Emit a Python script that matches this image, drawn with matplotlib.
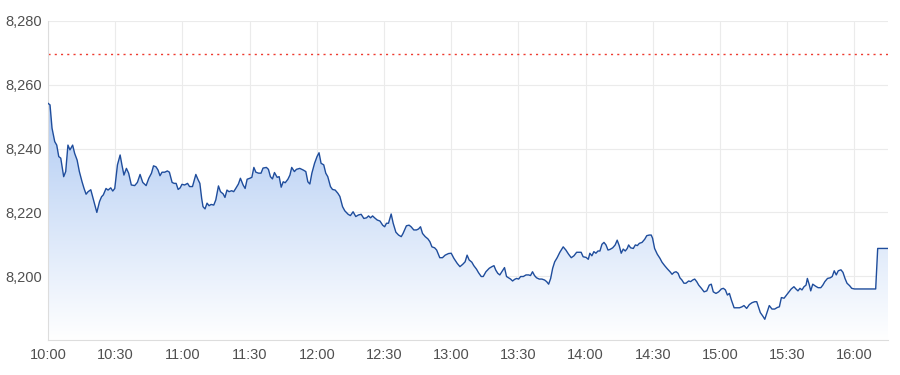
import numpy as np
import matplotlib
matplotlib.use("Agg")
import matplotlib.pyplot as plt
from matplotlib.colors import LinearSegmentedColormap

# minutes since 10:00
TIME_MIN = [0, 0.9, 1.8, 3, 3.9, 4.8, 5.7, 7, 7.9, 8.9, 9.8, 11, 11.9, 13, 14, 15.2, 16.1, 17, 17.9, 19.1,
            20.3, 21.8, 23, 23.9, 24.7, 25.9, 26.8, 28, 28.9, 29.8, 31, 32.2, 33, 33.9, 35, 36, 37.2, 38.7,
            39.9, 41.1, 42.3, 43.8, 45, 46.2, 47.1, 48.2, 49.1, 50, 50.9, 52.1, 53.3, 54.2, 55.4, 56.3, 57.2,
            58.1, 59, 59.8, 61, 62.3, 63.2, 64.5, 66, 66.9, 67.8, 68.6, 69.2, 70.1, 71, 71.9, 72.8, 74, 74.9,
            76.1, 77, 78.2, 79, 79.9, 80.8, 82, 82.9, 83.8, 85, 85.9, 87.1, 88, 88.9, 90.1, 91, 91.9, 92.8,
            94, 95.1, 96, 97.5, 98.4, 99.3, 100.2, 101.1, 102.3, 103.2, 104.1, 105, 105.9, 107.1, 108, 108.8,
            110, 110.9, 112.4, 113.9, 115.1, 116, 116.9, 117.8, 119, 120.1, 121, 121.9, 123.1, 124, 124.9,
            126.1, 127, 128.2, 129.4, 130.3, 131.5, 132.5, 134, 135, 136.2, 137.4, 138.6, 139.8, 141, 142.2,
            143.1, 144, 144.9, 145.8, 147, 148.2, 149.4, 150.3, 151.1, 152, 153.2, 154.1, 155.3, 156.5,
            157.7, 158.5, 160, 161.2, 162.1, 163.3, 164.5, 165.4, 166.3, 167.2, 168.4, 169.6, 170.5, 171.4,
            172.6, 173.5, 174.9, 176.1, 177.3, 178.8, 180, 181.2, 182.7, 183.9, 185.1, 186.2, 187.1, 188,
            189.2, 190.1, 191.3, 192.2, 193.4, 194.3, 195.5, 197, 198.2, 199.1, 199.9, 200.8, 201.7, 202.6,
            203.8, 204.7, 205.6, 206.5, 207.4, 208.3, 209.2, 210.1, 211, 212.2, 213.4, 214.6, 215.4, 216.3,
            217.2, 218.1, 219.3, 220.5, 221.7, 222.6, 223.5, 224.4, 225.3, 226.2, 227.3, 228.5, 230, 231.2,
            232.4, 233.6, 234.8, 236, 237.2, 238, 238.9, 240.2, 241.2, 241.9, 242.8, 243.7, 244.6, 245.5,
            246.4, 247.3, 248.2, 249.1, 250, 250.9, 252.1, 253.2, 254.1, 255, 255.9, 256.8, 257.7, 258.6,
            259.2, 260.1, 261.3, 262.2, 263.1, 264, 265.2, 266.4, 267.3, 268.4, 269.3, 269.9, 270.8, 272,
            273.2, 274.1, 275.3, 276.5, 277.7, 278.6, 279.5, 280.4, 281.3, 282.1, 283, 283.9, 284.8, 286,
            286.9, 287.8, 288.7, 289.6, 290.5, 291.7, 292.9, 294.1, 295.2, 296.1, 297, 298.2, 299.4, 300.6,
            301.5, 302.4, 303.3, 304.2, 305.1, 306.3, 307.5, 308.7, 309.8, 310.7, 311.9, 313.1, 314.3, 315.5,
            316.4, 317.3, 318, 319.1, 320, 320.9, 322, 323.2, 324.4, 325.6, 326.5, 327.4, 328.6, 329.5,
            330.7, 331.8, 333, 333.9, 334.8, 335.7, 336.6, 337.5, 338.4, 339, 339.9, 340.5, 341.4, 342.6,
            343.8, 345, 345.9, 346.8, 348, 349.2, 350.1, 351, 351.9, 352.8, 354, 354.9, 355.8, 356.7, 357.9,
            358.8, 360, 369.5, 370.4, 375]
PRICE = [8254.2, 8253.7, 8246.4, 8242.2, 8241.1, 8237.5, 8237, 8231.2, 8232.8, 8241.1, 8239.6, 8241.1, 8238.5,
         8236.4, 8232.8, 8229.6, 8227.5, 8225.7, 8226.5, 8227.1, 8223.9, 8220, 8223.4, 8224.9, 8225.5, 8227.5,
         8227, 8227.7, 8226.7, 8227.5, 8234.9, 8238, 8234.9, 8231.7, 8233.8, 8232.3, 8228.6, 8228.4, 8229.4,
         8231.9, 8229.4, 8228.4, 8230.7, 8232.3, 8234.6, 8234.3, 8233.3, 8231.5, 8232.6, 8232.6, 8233, 8232.6,
         8229.4, 8229.1, 8229.1, 8227.2, 8227.7, 8228.8, 8228.6, 8229.1, 8228.1, 8228.1, 8231.9, 8230.4, 8229.1,
         8224.4, 8221.8, 8221.1, 8222.9, 8222.1, 8222.5, 8222.3, 8223.9, 8228.3, 8226.5, 8225.8, 8224.7, 8227,
         8226.5, 8226.8, 8226.5, 8227.5, 8228.9, 8230.7, 8228.6, 8227.5, 8230.4, 8230.7, 8231, 8234.1, 8232.6,
         8232.3, 8232.3, 8233.9, 8234.1, 8233.5, 8231.2, 8230.5, 8232.5, 8231, 8231.2, 8227.9, 8229.6, 8229.3,
         8230.4, 8231.7, 8234.1, 8232.8, 8233.5, 8233.8, 8233.3, 8232.8, 8229.6, 8228.9, 8232.3, 8235.4, 8237.5,
         8238.7, 8235.4, 8234.9, 8232.3, 8231.2, 8228.1, 8227.2, 8227, 8226, 8225, 8221.8, 8220.5, 8219.4, 8219,
         8220.2, 8218.7, 8219.2, 8219.4, 8218.1, 8218.3, 8218.9, 8218.3, 8218.9, 8218.3, 8217.6, 8217.3, 8216,
         8215.5, 8216.6, 8216.6, 8219.5, 8216.6, 8213.8, 8212.9, 8212.4, 8213.4, 8215.8, 8216, 8215.5, 8214.5,
         8214.5, 8214.8, 8215.5, 8213.4, 8212.4, 8211.7, 8210.8, 8209.2, 8208.9, 8208.2, 8205.8, 8205.8, 8206.6,
         8207.1, 8207.2, 8205.6, 8204, 8203, 8203.7, 8204.5, 8206.6, 8205.1, 8204.4, 8203.3, 8202.2, 8201.1,
         8199.9, 8199.9, 8201.4, 8202.5, 8203, 8203.3, 8201.9, 8200.9, 8200.4, 8201.4, 8202.7, 8199.9, 8199.5,
         8199.1, 8198.5, 8199, 8199.3, 8199.1, 8199.9, 8199.9, 8200.4, 8200.4, 8200.2, 8201.4, 8200.2, 8199.5,
         8199.1, 8199.1, 8198.8, 8198.3, 8197.5, 8199.3, 8202.5, 8204.5, 8205.8, 8207.5, 8209.2, 8208.2, 8206.9,
         8205.8, 8206.4, 8207.5, 8207.5, 8207.5, 8206.1, 8205.9, 8205.3, 8207.2, 8206.4, 8207.7, 8207.2, 8207.9,
         8207.9, 8210, 8210.6, 8209.8, 8208.2, 8208.4, 8208.9, 8209.8, 8211.3, 8209.6, 8207.2, 8208.5, 8207.9,
         8208.7, 8209.8, 8208.9, 8208.7, 8209.8, 8209.6, 8210.3, 8210.6, 8211.6, 8212.7, 8212.9, 8212.9, 8211.9,
         8208.7, 8206.9, 8205.6, 8204.4, 8203.3, 8202.3, 8201.4, 8200.6, 8201.2, 8201.4, 8200.9, 8199.5, 8198.8,
         8197.8, 8197.8, 8198.5, 8198.3, 8198.8, 8199.1, 8198.3, 8197.2, 8196.2, 8195.1, 8195.4, 8197.2, 8197.5,
         8195.1, 8194.6, 8195.1, 8196, 8196.2, 8195.7, 8194.1, 8194.6, 8192.5, 8190.1, 8190.1, 8190.1, 8190.4,
         8190.8, 8189.9, 8191.1, 8191.7, 8192, 8192, 8190.1, 8188.6, 8187.5, 8186.5, 8188.4, 8190.8, 8189.7,
         8189.7, 8190.2, 8190.4, 8193.3, 8193.1, 8193.9, 8195, 8196, 8196.7, 8196, 8195.4, 8196.2, 8195.7,
         8196.7, 8197.2, 8199.3, 8197.2, 8195.4, 8197.5, 8196.9, 8196.4, 8196.4, 8197.2, 8198.3, 8199.3, 8199.5,
         8199.9, 8201.7, 8200.4, 8201.7, 8202, 8201.2, 8199.3, 8197.8, 8197, 8196.2, 8196, 8196, 8208.7, 8208.7]

PREV_CLOSE = 8269.7
Y_TICKS = [8200, 8220, 8240, 8260, 8280]
Y_TICK_LABELS = ["8,200", "8,220", "8,240", "8,260", "8,280"]
X_TICKS = [0, 30, 60, 90, 120, 150, 180, 210, 240, 270, 300, 330, 360]
X_TICK_LABELS = ["10:00", "10:30", "11:00", "11:30", "12:00", "12:30", "13:00",
                 "13:30", "14:00", "14:30", "15:00", "15:30", "16:00"]

plt.rcParams['font.family'] = ['Liberation Sans', 'DejaVu Sans']

fig = plt.figure(figsize=(9, 3.75), dpi=100)
ax = fig.add_axes([48 / 900, 1 - 340 / 375, 840 / 900, 319 / 375])

x = np.array(TIME_MIN)
y = np.array(PRICE)
YMIN, YMAX = 8180, 8280
XMAX = 375

# gradient fill clipped under the line
cmap = LinearSegmentedColormap.from_list("g", [(1, 1, 1), (0.69, 0.795, 0.953)])
grad = np.linspace(0, 1, 256).reshape(-1, 1)
top = y.max()
im = ax.imshow(grad, extent=[0, XMAX, YMIN, top], origin="lower", aspect="auto",
               cmap=cmap, zorder=1)
poly = ax.fill_between(x, y, YMIN, color="none", lw=0)
clip = poly.get_paths()[0]
im.set_clip_path(clip, transform=ax.transData)

ax.plot(x, y, color="#1f4d9c", lw=1.0, zorder=3, solid_joinstyle="round")
ax.axhline(PREV_CLOSE, color="#ee3b2f", lw=1.0, linestyle=(0, (1.5, 3)), zorder=2)

ax.set_xlim(0, XMAX)
ax.set_ylim(YMIN, YMAX)
ax.set_xticks(X_TICKS)
ax.set_xticklabels(X_TICK_LABELS)
ax.set_yticks(Y_TICKS)
ax.set_yticklabels(Y_TICK_LABELS)
ax.tick_params(length=0, labelsize=10.5, labelcolor="#505050")
ax.tick_params(axis="y", pad=4.5)
ax.tick_params(axis="x", pad=6)
ax.grid(True, color="#ebebeb", lw=0.8, zorder=0)
ax.set_axisbelow(True)
for s in ["top", "right"]:
    ax.spines[s].set_visible(False)
for s in ["left", "bottom"]:
    ax.spines[s].set_color("#dddddd")
    ax.spines[s].set_linewidth(0.8)

fig.savefig("out.png", dpi=100)
